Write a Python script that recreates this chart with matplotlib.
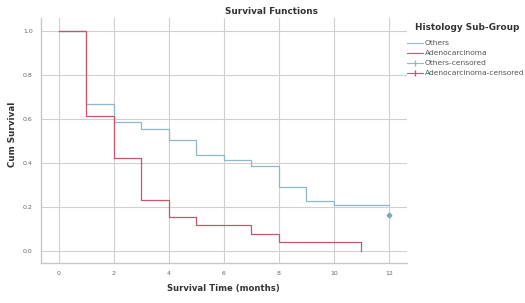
import matplotlib
matplotlib.use("Agg")
import matplotlib.pyplot as plt
from matplotlib.lines import Line2D

# Data (step survival functions)
others_t = [0, 1, 2, 3, 4, 5, 6, 7, 8, 9, 10, 12]
others_s = [1.0, 0.667, 0.587, 0.555, 0.505, 0.435, 0.415, 0.385, 0.29, 0.225, 0.21, 0.21]
others_cens_t = [12]
others_cens_s = [0.162]

adeno_t = [0, 1, 2, 3, 4, 5, 7, 8, 11, 11]
adeno_s = [1.0, 0.615, 0.423, 0.231, 0.154, 0.117, 0.078, 0.04, 0.04, 0.0]

xticks = [0, 2, 4, 6, 8, 10, 12]
yticks = [0.0, 0.2, 0.4, 0.6, 0.8, 1.0]

blue = "#8fb8cc"
red = "#c4566e"
txt = "#333333"

fig = plt.figure(figsize=(5.25, 3.03), dpi=100)
ax = fig.add_axes([0.078, 0.132, 0.697, 0.809])

ax.step(others_t, others_s, where="post", color=blue, lw=0.9)
ax.step(adeno_t, adeno_s, where="post", color=red, lw=0.9)
ax.plot(others_cens_t, others_cens_s, linestyle="none", marker="P", ms=3, color="#7fa6bd")

ax.set_xlim(-0.65, 12.65)
ax.set_ylim(-0.055, 1.06)
ax.set_xticks(xticks)
ax.set_xticklabels([str(v) for v in xticks])
ax.set_yticks(yticks)
ax.set_yticklabels([f"{v:.1f}" for v in yticks])
ax.grid(True, color="#d0d0d0", lw=0.8)
ax.set_axisbelow(True)
for s in ["top", "right"]:
    ax.spines[s].set_visible(False)
for s in ["left", "bottom"]:
    ax.spines[s].set_color("#c8c8c8")
    ax.spines[s].set_linewidth(1.0)
ax.tick_params(length=0, labelsize=4.5, labelcolor="#666666", pad=6)

fig.text(271 / 525, 1 - 11 / 303, "Survival Functions", fontsize=6.4, fontweight="bold",
         color=txt, ha="center", va="center")
fig.text(223 / 525, 1 - 289 / 303, "Survival Time (months)", fontsize=6.1, fontweight="bold",
         color=txt, ha="center", va="center")
fig.text(12.5 / 525, 1 - 134.5 / 303, "Cum Survival", fontsize=6.3, fontweight="bold",
         color=txt, ha="center", va="center", rotation=90)
fig.text(415 / 525, 1 - 28 / 303, "Histology Sub-Group", fontsize=6.4, fontweight="bold",
         color=txt, ha="left", va="center")

handles = [
    Line2D([], [], color=blue, lw=0.8),
    Line2D([], [], color=red, lw=0.8),
    Line2D([], [], color=blue, lw=0.8, marker="|", ms=5),
    Line2D([], [], color=red, lw=0.8, marker="|", ms=5),
]
labels = ["Others", "Adenocarcinoma", "Others-censored", "Adenocarcinoma-censored"]
leg = fig.legend(handles, labels, loc="upper left",
                 bbox_to_anchor=(407 / 525, 1 - 40 / 303), frameon=False, fontsize=5.4,
                 handlelength=2.1, handletextpad=0.3,
                 labelspacing=0.5, borderaxespad=0, borderpad=0)
for t in leg.get_texts():
    t.set_color("#555555")

fig.savefig("out.png", dpi=100)
